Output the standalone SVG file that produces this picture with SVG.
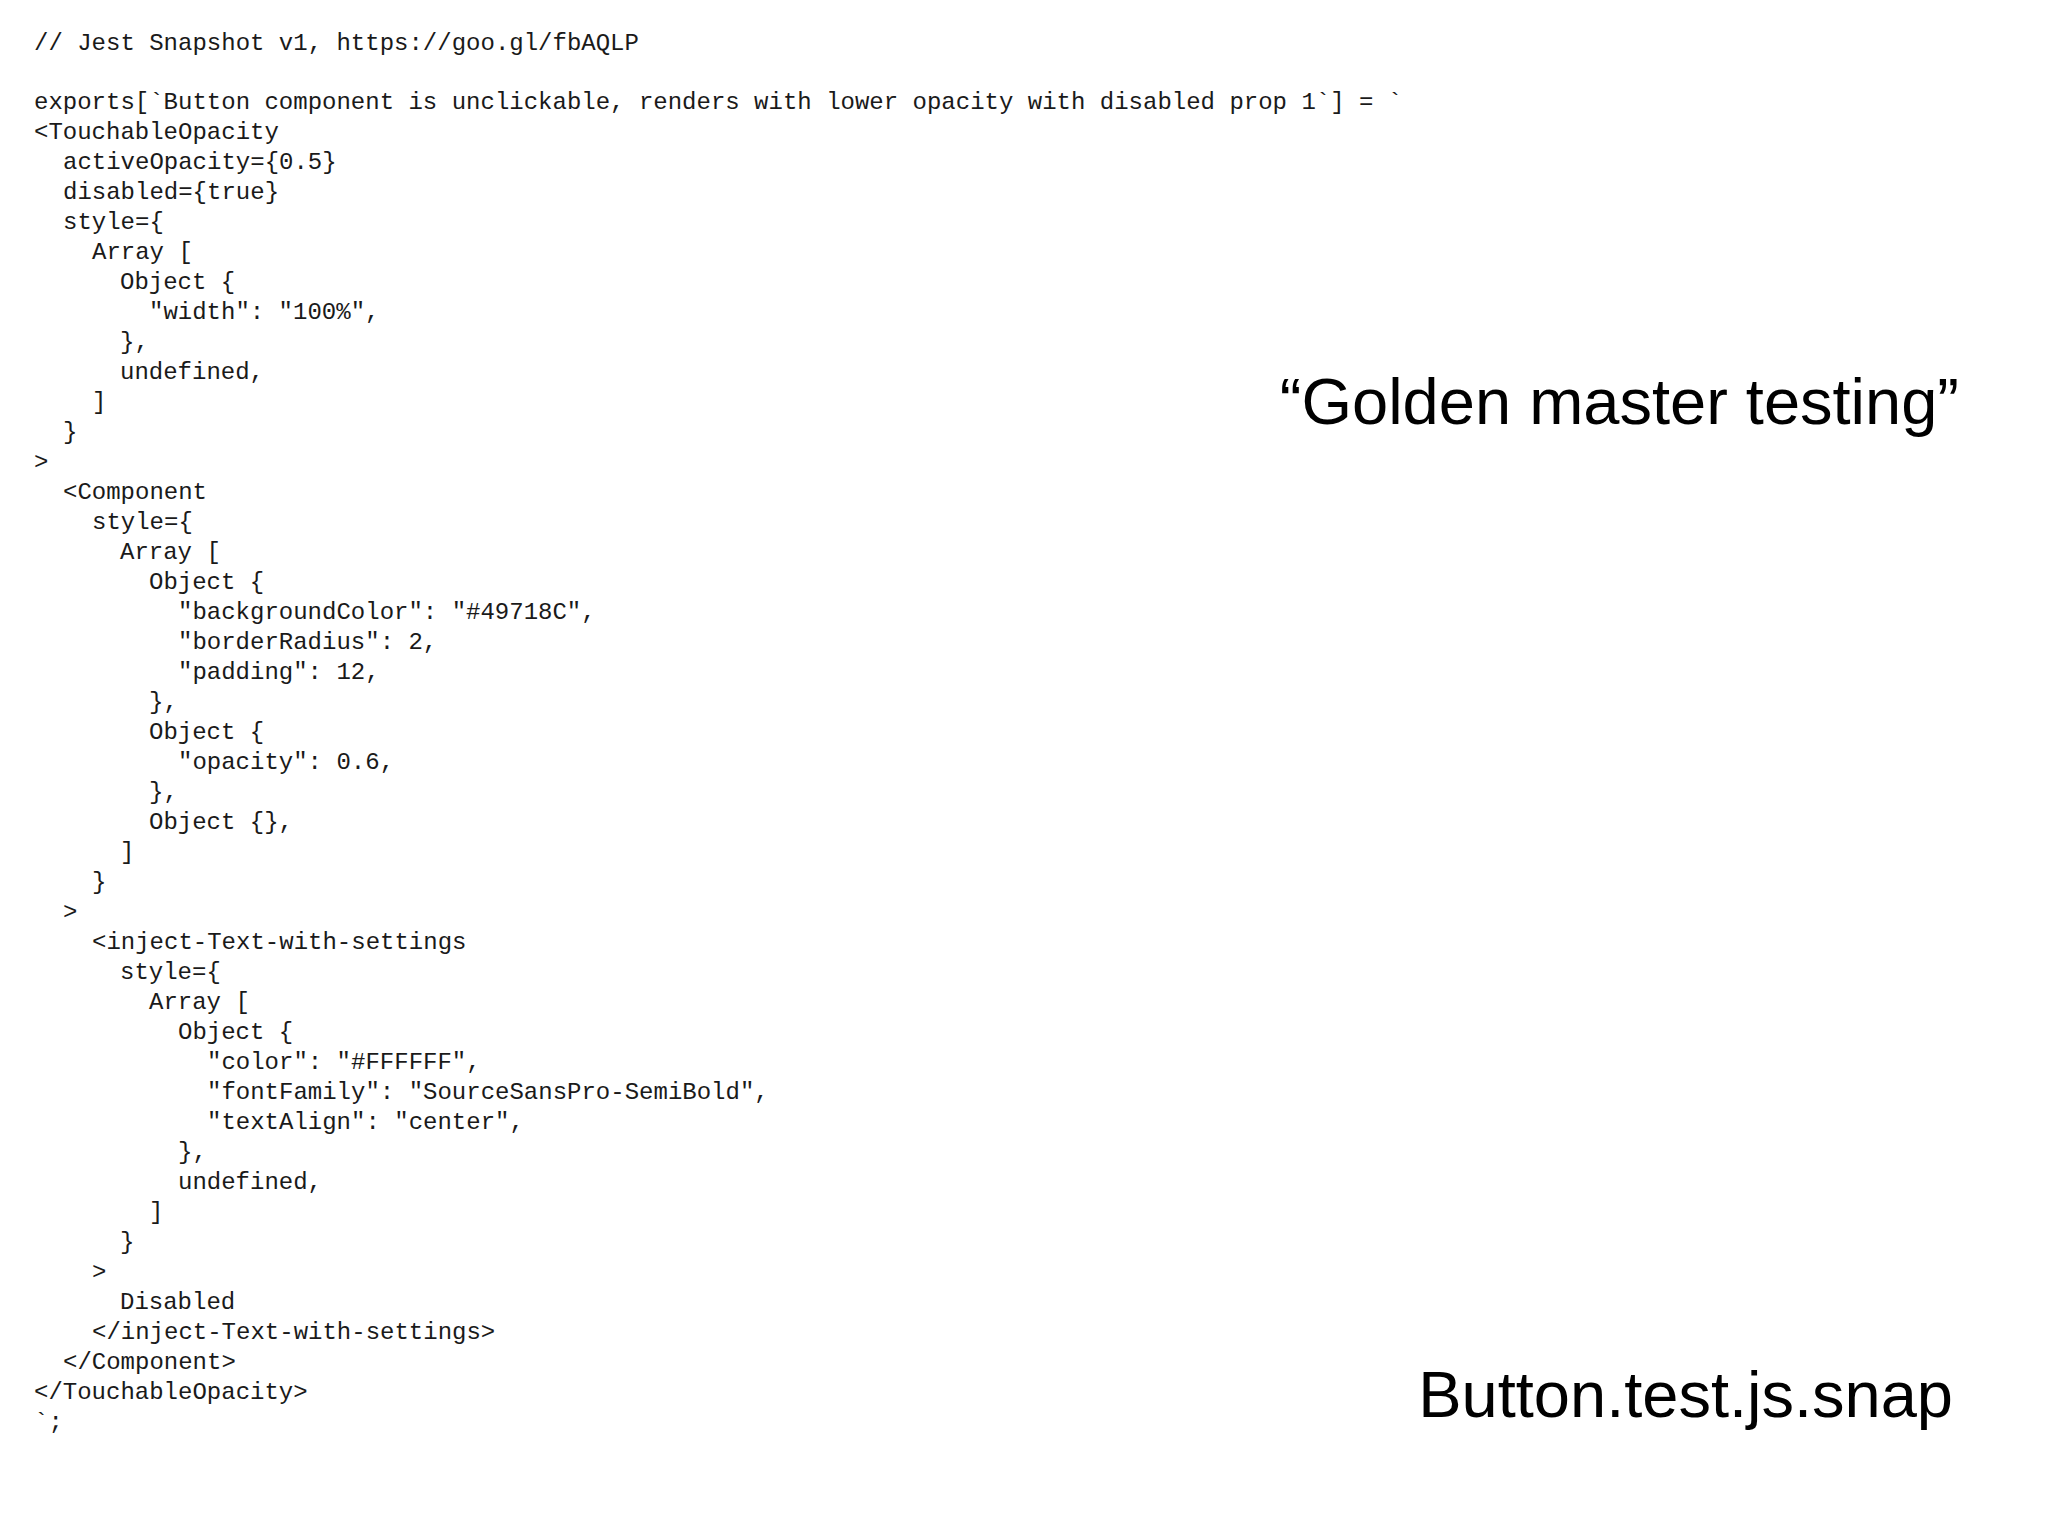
<svg xmlns="http://www.w3.org/2000/svg" width="2048" height="1536" viewBox="0 0 2048 1536">
<style>
.c{font-family:"Liberation Mono","DejaVu Sans Mono",monospace;font-size:24px;fill:#1a1a1a}
.t{font-family:"Liberation Sans",Arial,sans-serif;font-size:65px;fill:#000;text-anchor:end}
</style>
<rect width="2048" height="1536" fill="#fff"/>
<g id="code" class="c">
<text x="34" y="50">// Jest Snapshot v1, https://goo.gl/fbAQLP</text>
<text x="34" y="109">exports[`Button component is unclickable, renders with lower opacity with disabled prop 1`] = `</text>
<text x="34" y="139">&lt;TouchableOpacity</text>
<text x="63" y="169">activeOpacity={0.5}</text>
<text x="63" y="199">disabled={true}</text>
<text x="63" y="229">style={</text>
<text x="92" y="259">Array [</text>
<text x="120" y="289">Object {</text>
<text x="149" y="319">"width": "100%",</text>
<text x="120" y="349">},</text>
<text x="120" y="379">undefined,</text>
<text x="92" y="409">]</text>
<text x="63" y="439">}</text>
<text x="34" y="469">&gt;</text>
<text x="63" y="499">&lt;Component</text>
<text x="92" y="529">style={</text>
<text x="120" y="559">Array [</text>
<text x="149" y="589">Object {</text>
<text x="178" y="619">"backgroundColor": "#49718C",</text>
<text x="178" y="649">"borderRadius": 2,</text>
<text x="178" y="679">"padding": 12,</text>
<text x="149" y="709">},</text>
<text x="149" y="739">Object {</text>
<text x="178" y="769">"opacity": 0.6,</text>
<text x="149" y="799">},</text>
<text x="149" y="829">Object {},</text>
<text x="120" y="859">]</text>
<text x="92" y="889">}</text>
<text x="63" y="919">&gt;</text>
<text x="92" y="949">&lt;inject-Text-with-settings</text>
<text x="120" y="979">style={</text>
<text x="149" y="1009">Array [</text>
<text x="178" y="1039">Object {</text>
<text x="207" y="1069">"color": "#FFFFFF",</text>
<text x="207" y="1099">"fontFamily": "SourceSansPro-SemiBold",</text>
<text x="207" y="1129">"textAlign": "center",</text>
<text x="178" y="1159">},</text>
<text x="178" y="1189">undefined,</text>
<text x="149" y="1219">]</text>
<text x="120" y="1249">}</text>
<text x="92" y="1279">&gt;</text>
<text x="120" y="1309">Disabled</text>
<text x="92" y="1339">&lt;/inject-Text-with-settings&gt;</text>
<text x="63" y="1369">&lt;/Component&gt;</text>
<text x="34" y="1399">&lt;/TouchableOpacity&gt;</text>
<text x="34" y="1429">`;</text>
</g>
<g id="titles">
<text class="t" x="1959" y="424">“Golden master testing”</text>
<text class="t" x="1953" y="1417">Button.test.js.snap</text>
</g>
</svg>
